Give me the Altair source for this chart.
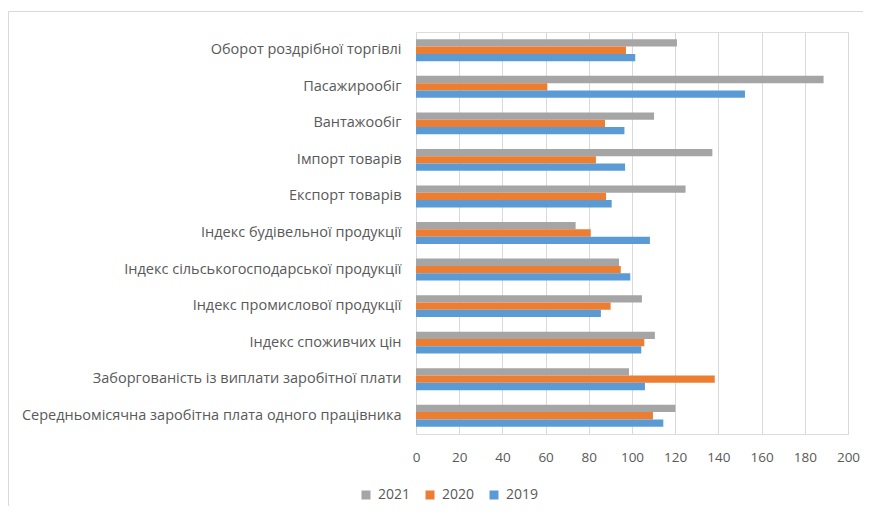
import altair as alt
import pandas as pd

categories = [
    "Оборот роздрібної торгівлі",
    "Пасажирообіг",
    "Вантажообіг",
    "Імпорт товарів",
    "Експорт товарів",
    "Індекс будівельної продукції",
    "Індекс сільськогосподарської продукції",
    "Індекс промислової продукції",
    "Індекс споживчих цін",
    "Заборгованість із виплати заробітної плати",
    "Середньомісячна заробітна плата одного працівника",
]
years = ["2021", "2020", "2019"]
v2021 = [120.8, 188.7, 110.2, 137.2, 124.8, 73.9, 94.0, 104.6, 110.6, 98.6, 120.1]
v2020 = [97.2, 60.8, 87.5, 83.3, 88.0, 80.9, 94.8, 90.1, 105.7, 138.3, 109.7]
v2019 = [101.5, 152.3, 96.5, 96.8, 90.6, 108.3, 99.2, 85.6, 104.3, 106.0, 114.5]
colors = ["#A5A5A5", "#ED7D31", "#5B9BD5"]
x_ticks = list(range(0, 201, 20))

rows = []
for yr, vals in zip(years, [v2021, v2020, v2019]):
    for c, v in zip(categories, vals):
        rows.append({"cat": c, "year": yr, "value": v})
df = pd.DataFrame(rows)

FONT = "Open Sans"

bars = alt.Chart(df).mark_bar(size=7.3).encode(
    x=alt.X("value:Q",
            scale=alt.Scale(domain=[0, 200], nice=False),
            axis=alt.Axis(values=x_ticks, title=None, grid=True, gridColor="#d9d9d9",
                          domain=False, ticks=False, labelPadding=16, labelFlush=False,
                          labelFontSize=13.5, labelColor="#595959", labelFont=FONT)),
    y=alt.Y("cat:N", sort=categories,
            scale=alt.Scale(paddingInner=0.4, paddingOuter=0.2),
            axis=alt.Axis(title=None, domain=False, ticks=False, labelPadding=15,
                          labelFontSize=14.5, labelColor="#595959", labelFont=FONT,
                          labelLimit=500)),
    yOffset=alt.YOffset("year:N", sort=years),
    color=alt.Color("year:N",
                    scale=alt.Scale(domain=years, range=colors),
                    legend=alt.Legend(title=None, orient="none", direction="horizontal",
                                      legendX=-57, legendY=456,
                                      symbolType="square", symbolSize=81,
                                      symbolStrokeWidth=0, symbolOpacity=1,
                                      labelFontSize=14, labelColor="#595959",
                                      labelFont=FONT, labelOffset=5,
                                      columnPadding=12)),
)

one = pd.DataFrame({"a": [0]})
left_line = alt.Chart(one).mark_rule(color="#d9d9d9", strokeWidth=1).encode(
    x=alt.value(-407.5), y=alt.value(-20.5), y2=alt.value(480)
)
top_line = alt.Chart(one).mark_rule(color="#d9d9d9", strokeWidth=1).encode(
    y=alt.value(-20.5), x=alt.value(-407.5), x2=alt.value(460)
)

chart = alt.layer(left_line, top_line, bars).properties(
    width=432, height=402,
    autosize=alt.AutoSizeParams(type="none"),
    padding={"left": 408, "top": 24, "right": 15, "bottom": 72},
).configure_view(stroke=None).configure(background="white")

chart.save("out.html", embed_options={"renderer": "svg", "actions": False})
